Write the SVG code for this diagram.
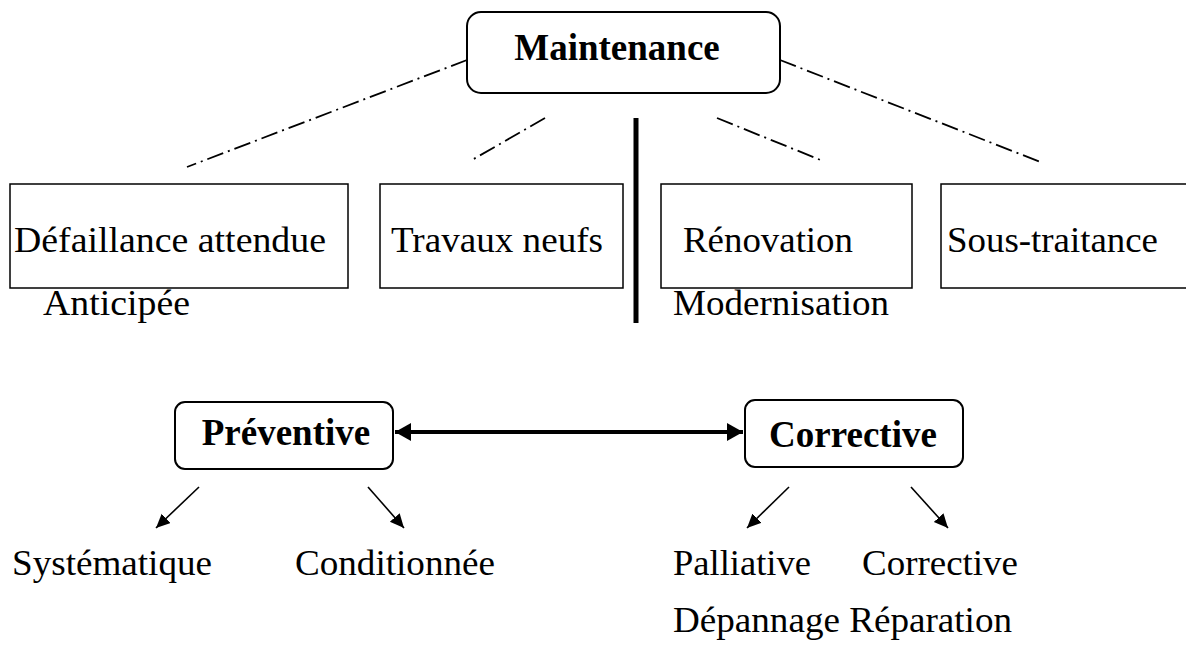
<svg xmlns="http://www.w3.org/2000/svg" width="1186" height="648" viewBox="0 0 1186 648">
<style>
.t{font-family:"Liberation Serif","Times New Roman",serif;font-size:35px;fill:#000}
.b{font-weight:bold;font-size:37px}
.box{fill:#fff;stroke:#000;stroke-width:1.5}
.rbox{fill:#fff;stroke:#000;stroke-width:2}
.dd{fill:none;stroke:#000;stroke-width:1.8;stroke-dasharray:17 5 2 5}
.ar{fill:none;stroke:#000;stroke-width:1.6}
</style>
<defs>
<marker id="ah" markerUnits="userSpaceOnUse" markerWidth="16" markerHeight="14" refX="14" refY="6.5" orient="auto">
<path d="M0,0 L14,6.5 L0,13 Z" fill="#000"/>
</marker>
<marker id="bh" markerUnits="userSpaceOnUse" markerWidth="18" markerHeight="20" refX="16" refY="9" orient="auto-start-reverse">
<path d="M0,0 L16,9 L0,18 Z" fill="#000"/>
</marker>
</defs>
<rect width="1186" height="648" fill="#fff"/>
<g id="connectors">
<line class="dd" x1="467" y1="60" x2="187" y2="167"/>
<line class="dd" x1="545" y1="118" x2="472" y2="160"/>
<line class="dd" x1="780" y1="60" x2="1043" y2="163"/>
<line class="dd" x1="717" y1="118" x2="823" y2="161"/>
<line x1="636" y1="118" x2="636" y2="323" stroke="#000" stroke-width="5"/>
<line x1="395" y1="432" x2="743" y2="432" stroke="#000" stroke-width="4" marker-start="url(#bh)" marker-end="url(#bh)"/>
<line class="ar" x1="199" y1="487" x2="156" y2="528" marker-end="url(#ah)"/>
<line class="ar" x1="368" y1="487" x2="404" y2="528" marker-end="url(#ah)"/>
<line class="ar" x1="789" y1="487" x2="747" y2="528" marker-end="url(#ah)"/>
<line class="ar" x1="911" y1="487" x2="948" y2="528" marker-end="url(#ah)"/>
</g>
<g id="maintenance">
<rect class="rbox" x="467" y="12" width="313" height="81" rx="14"/>
<text class="t b" x="617" y="60" text-anchor="middle">Maintenance</text>
</g>
<g id="defaillance">
<rect class="box" x="10" y="184" width="338" height="104"/>
<text class="t" x="14" y="252" textLength="312" lengthAdjust="spacingAndGlyphs">Défaillance attendue</text>
<text class="t" x="43" y="315" textLength="147" lengthAdjust="spacingAndGlyphs">Anticipée</text>
</g>
<g id="travaux">
<rect class="box" x="380" y="184" width="243" height="104"/>
<text class="t" x="391" y="252" textLength="212" lengthAdjust="spacingAndGlyphs">Travaux neufs</text>
</g>
<g id="renovation">
<rect class="box" x="661" y="184" width="251" height="104"/>
<text class="t" x="683" y="252" textLength="170" lengthAdjust="spacingAndGlyphs">Rénovation</text>
<text class="t" x="673" y="315" textLength="216" lengthAdjust="spacingAndGlyphs">Modernisation</text>
</g>
<g id="soustraitance">
<rect class="box" x="941" y="184" width="250" height="104"/>
<text class="t" x="947" y="252" textLength="211" lengthAdjust="spacingAndGlyphs">Sous-traitance</text>
</g>
<g id="preventive">
<rect class="rbox" x="175" y="402" width="218" height="67" rx="10"/>
<text class="t b" x="286" y="445" text-anchor="middle">Préventive</text>
</g>
<g id="corrective">
<rect class="rbox" x="745" y="400" width="218" height="67" rx="10"/>
<text class="t b" x="853" y="447" text-anchor="middle">Corrective</text>
</g>
<g id="leaves">
<text class="t" x="12" y="575" textLength="200" lengthAdjust="spacingAndGlyphs">Systématique</text>
<text class="t" x="295" y="575" textLength="200" lengthAdjust="spacingAndGlyphs">Conditionnée</text>
<text class="t" x="673" y="575" textLength="138" lengthAdjust="spacingAndGlyphs">Palliative</text>
<text class="t" x="862" y="575" textLength="156" lengthAdjust="spacingAndGlyphs">Corrective</text>
<text class="t" x="673" y="632" textLength="339" lengthAdjust="spacingAndGlyphs">Dépannage Réparation</text>
</g>
</svg>
